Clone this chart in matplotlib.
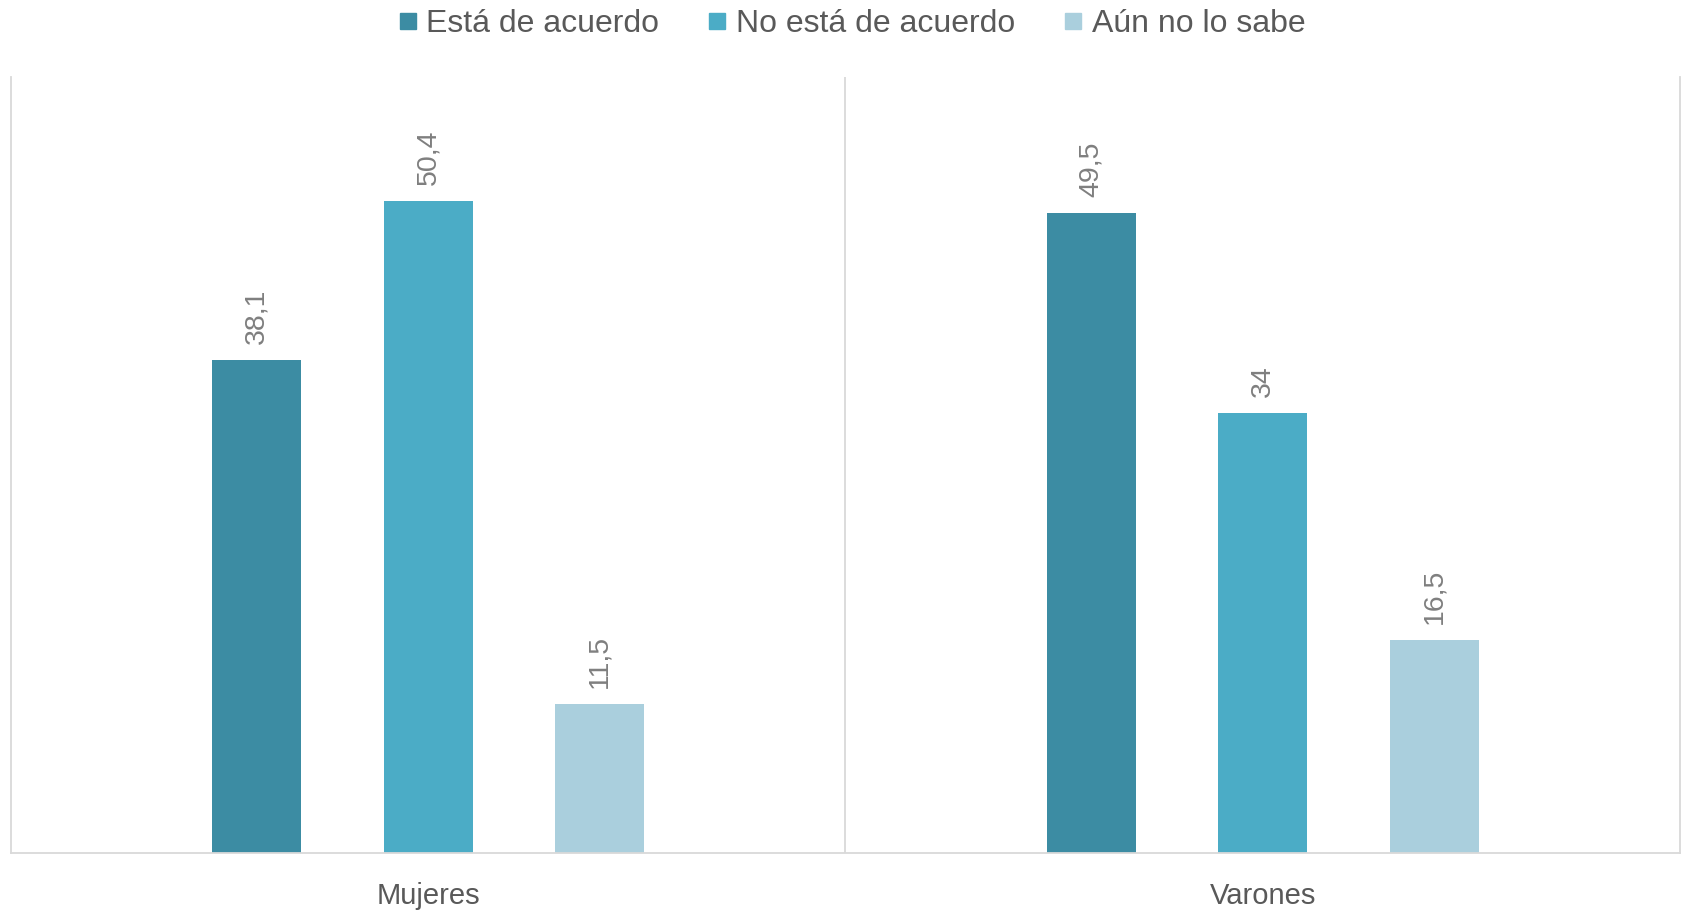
import matplotlib
matplotlib.use("Agg")
import matplotlib.pyplot as plt
from matplotlib.lines import Line2D
import numpy as np

categories = ["Mujeres", "Varones"]
series_names = ["Está de acuerdo", "No está de acuerdo", "Aún no lo sabe"]
esta_de_acuerdo = [38.1, 49.5]
no_esta_de_acuerdo = [50.4, 34]
aun_no_lo_sabe = [11.5, 16.5]
value_labels = [["38,1", "49,5"], ["50,4", "34"], ["11,5", "16,5"]]

colors = ["#3C8CA3", "#4BACC6", "#AACFDD"]

plt.rcParams["font.family"] = ["Liberation Sans", "DejaVu Sans"]

fig = plt.figure(figsize=(16.83, 9.13), dpi=100)
ax = fig.add_axes([11 / 1683, 1 - 853 / 913, (1680 - 11) / 1683, (853 - 77) / 913])

series = [esta_de_acuerdo, no_esta_de_acuerdo, aun_no_lo_sabe]
x = np.arange(len(categories))
offsets = [-0.2055, 0.0, 0.2055]
width = 0.107

for s, (vals, off, col) in enumerate(zip(series, offsets, colors)):
    bars = ax.bar(x + off, vals, width=width, color=col, label=series_names[s], zorder=2)
    for b, lab in zip(bars, value_labels[s]):
        ax.annotate(lab, (b.get_x() + b.get_width() / 2, b.get_height()),
                    xytext=(0, 11.5), textcoords="offset points",
                    rotation=90, ha="center", va="bottom",
                    fontsize=20.5, color="#7F7F7F")

ax.set_xlim(-0.5, 1.5)
ax.set_ylim(0, 60)
ax.set_yticks([])
ax.set_xticks(x)
ax.set_xticklabels(categories, fontsize=21, color="#595959")
ax.tick_params(axis="x", length=0, pad=21)

spine_col = "#D9D9D9"
for side in ["left", "right", "bottom"]:
    ax.spines[side].set_color(spine_col)
    ax.spines[side].set_linewidth(1.3)
ax.spines["top"].set_visible(False)
ax.axvline(0.5, color=spine_col, linewidth=1.3, zorder=1)

handles = [Line2D([0], [0], marker="s", linestyle="none", markersize=11,
                  markerfacecolor=c, markeredgecolor=c) for c in colors]
fig.legend(handles, series_names, loc="center", bbox_to_anchor=(852 / 1683, 1 - 24 / 913),
           ncol=3, frameon=False, fontsize=23, labelcolor="#595959",
           handlelength=0.55, handletextpad=0.3, columnspacing=1.55,
           borderaxespad=0, borderpad=0)

fig.savefig("out.png", dpi=100)
